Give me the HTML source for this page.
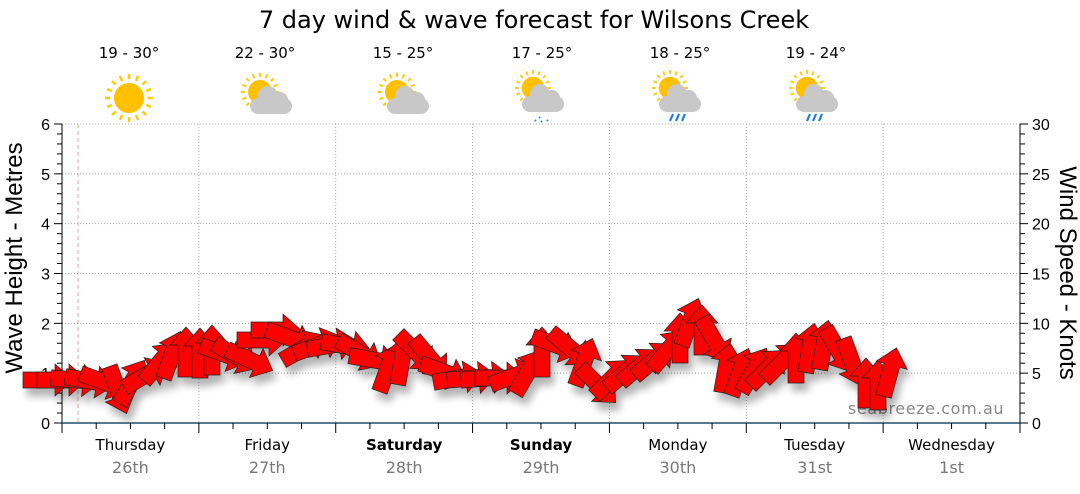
<!DOCTYPE html>
<html><head><meta charset="utf-8"><style>
body{margin:0;background:#fff;width:1080px;height:490px;overflow:hidden;font-family:"DejaVu Sans",sans-serif}
</style></head><body>
<svg id="s" width="1080" height="490" xmlns="http://www.w3.org/2000/svg" font-family="DejaVu Sans, sans-serif">
<defs>
<filter id="sh" x="-20%" y="-20%" width="140%" height="160%"><feGaussianBlur in="SourceAlpha" stdDeviation="4"/><feOffset dx="4" dy="8"/><feComponentTransfer><feFuncA type="linear" slope="0.3"/></feComponentTransfer><feMerge><feMergeNode/><feMergeNode in="SourceGraphic"/></feMerge></filter>
<g id="sun"><g stroke="#ffcc00" stroke-width="2.5"><line x1="0" y1="-24" x2="0" y2="-19"/><line x1="0" y1="24" x2="0" y2="19"/><line x1="-24" y1="0" x2="-19" y2="0"/><line x1="24" y1="0" x2="19" y2="0"/><line x1="-17" y1="-17" x2="-13.5" y2="-13.5"/><line x1="17" y1="17" x2="13.5" y2="13.5"/><line x1="-17" y1="17" x2="-13.5" y2="13.5"/><line x1="17" y1="-17" x2="13.5" y2="-13.5"/><line x1="-9" y1="-22" x2="-7" y2="-17"/><line x1="9" y1="22" x2="7" y2="17"/><line x1="22" y1="-9" x2="17" y2="-7"/><line x1="-22" y1="9" x2="-17" y2="7"/><line x1="9" y1="-22" x2="7" y2="-17"/><line x1="-9" y1="22" x2="-7" y2="17"/><line x1="22" y1="9" x2="17" y2="7"/><line x1="-22" y1="-9" x2="-17" y2="-7"/></g><circle r="15" fill="#ffc000"/></g>
<g id="cloud" fill="#c8c8c8"><rect x="-20" y="-2" width="42" height="16" rx="8"/><circle cx="-2" cy="-4" r="10"/><circle cx="10" cy="0" r="8"/></g>
</defs>
<text x="534" y="28" font-size="24" text-anchor="middle" fill="#000">7 day wind &amp; wave forecast for Wilsons Creek</text>
<g font-size="15" text-anchor="middle" fill="#000">
<text x="129" y="58">19 - 30°</text><text x="265" y="58">22 - 30°</text><text x="403" y="58">15 - 25°</text><text x="542" y="58">17 - 25°</text><text x="680" y="58">18 - 25°</text><text x="816" y="58">19 - 24°</text></g>
<use href="#sun" x="129" y="98"/>
<g transform="translate(260,92) scale(0.8)"><use href="#sun"/></g><use href="#cloud" x="270" y="100"/>
<g transform="translate(397,92) scale(0.8)"><use href="#sun"/></g><use href="#cloud" x="407" y="100"/>
<g transform="translate(533,88) scale(0.75)"><use href="#sun"/></g><use href="#cloud" x="542" y="98"/><g stroke="#1e7be0" stroke-width="2"><line x1="535" y1="120" x2="536" y2="121"/><line x1="541" y1="121" x2="542" y2="122"/><line x1="547" y1="120" x2="548" y2="121"/><line x1="539" y1="117" x2="540" y2="118"/></g>
<g transform="translate(670,88) scale(0.75)"><use href="#sun"/></g><use href="#cloud" x="679" y="98"/><g stroke="#1e7be0" stroke-width="2.2"><line x1="673" y1="114" x2="670" y2="121"/><line x1="679" y1="114" x2="676" y2="121"/><line x1="685" y1="114" x2="682" y2="121"/></g>
<g transform="translate(807,88) scale(0.75)"><use href="#sun"/></g><use href="#cloud" x="816" y="98"/><g stroke="#1e7be0" stroke-width="2.2"><line x1="810" y1="114" x2="807" y2="121"/><line x1="816" y1="114" x2="813" y2="121"/><line x1="822" y1="114" x2="819" y2="121"/></g>
<g id="grid" stroke="#aaa" stroke-dasharray="1,2" stroke-width="1"></g>
<line x1="78" y1="124" x2="78" y2="423" stroke="#f99" stroke-dasharray="4,3"/>
<g id="axes"></g>
<text x="926" y="414" font-size="16" fill="#888" text-anchor="middle" letter-spacing="0.6">seabreeze.com.au</text>
<g id="arr" filter="url(#sh)" fill="#ff0000" stroke="#222" stroke-width="0.7"></g>
<text transform="translate(22,258) rotate(-90)" font-size="24" font-family="Liberation Sans, sans-serif" text-anchor="middle">Wave Height - Metres</text>
<text transform="translate(1060,273) rotate(90)" font-size="24" font-family="Liberation Sans, sans-serif" text-anchor="middle">Wind Speed - Knots</text>
</svg>
<script>
var NS="http://www.w3.org/2000/svg",x0=62,x1=1020,y0=423,y6=124,dw=(x1-x0)/7;
function el(p,t,a,txt){var e=document.createElementNS(NS,t);for(var k in a)e.setAttribute(k,a[k]);if(txt!=null)e.textContent=txt;p.appendChild(e);return e;}
var g=document.getElementById('grid'),ax=document.getElementById('axes');
for(var i=1;i<=6;i++){var y=y0-(y0-y6)*i/6;el(g,'line',{x1:x0,x2:x1,y1:y,y2:y});}
for(var d=1;d<7;d++){var x=x0+dw*d;el(g,'line',{x1:x,x2:x,y1:y6,y2:y0});}
el(ax,'line',{x1:x0,x2:x0,y1:y6,y2:y0,stroke:'#000'});
el(ax,'line',{x1:x1,x2:x1,y1:y6,y2:y0,stroke:'#000'});
el(ax,'line',{x1:x0,x2:x1,y1:y0,y2:y0,stroke:'#1d4f6e','stroke-width':1.5});
for(var i=0;i<=30;i++){var y=y0-(y0-y6)*i/30;var big=i%5==0;
 el(ax,'line',{x1:x0-(big?8:5),x2:x0,y1:y,y2:y,stroke:'#000'});
 el(ax,'line',{x1:x1,x2:x1+(big?8:5),y1:y,y2:y,stroke:'#000'});
 if(big){el(ax,'text',{x:x0-12,y:y+6,'font-size':16,'text-anchor':'end','font-family':'Liberation Sans, sans-serif'},i/5);el(ax,'text',{x:x1+12,y:y+6,'font-size':16,'font-family':'Liberation Sans, sans-serif'},i);}}
for(var q=0;q<=28;q++){var x=x0+dw*q/4;el(ax,'line',{x1:x,x2:x,y1:y0,y2:y0+(q%4==0?10:6),stroke:'#000'});}
var days=['Thursday','Friday','Saturday','Sunday','Monday','Tuesday','Wednesday'],dates=['26th','27th','28th','29th','30th','31st','1st'];
for(var d=0;d<7;d++){var x=x0+dw*(d+0.5);el(ax,'text',{x:x,y:450,'font-size':15,'text-anchor':'middle','font-weight':(d==2||d==3)?'bold':'normal'},days[d]);el(ax,'text',{x:x,y:473,'font-size':16,'text-anchor':'middle',fill:'#777'},dates[d]);}
var A=[[48,380,0],[62,380,0],[76,380,5],[90,381,10],[104,382,20],[118,390,70],[132,382,-60],[146,375,-30],[160,362,-50],[172,355,-70],[186,352,-90],[200,353,-90],[212,350,-90],[224,354,20],[236,356,30],[250,360,25],[262,340,0],[276,330,0],[290,338,20],[304,348,-30],[318,345,-20],[332,345,-10],[346,346,10],[360,353,30],[374,360,10],[388,368,-70],[402,360,-80],[416,352,45],[430,358,50],[444,372,20],[458,378,-10],[472,378,-5],[486,378,-5],[500,378,0],[514,376,-20],[528,372,-60],[542,352,-90],[556,345,20],[570,348,40],[584,362,-70],[598,385,45],[612,378,-45],[626,372,-40],[640,366,-40],[654,360,-40],[668,350,-50],[680,338,-90],[690,322,-70],[702,330,-90],[714,340,60],[726,368,-80],[740,372,-70],[754,370,-60],[768,368,-45],[782,362,-45],[796,358,-90],[810,348,-80],[824,345,-80],[838,350,60],[852,362,70],[866,383,-90],[878,385,-90],[890,372,-75]];
var ag=document.getElementById('arr');
A.forEach(function(a){el(ag,'polygon',{points:'-25,-8 7,-8 7,-16 25,0 7,16 7,8 -25,8',transform:'translate('+a[0]+','+a[1]+') rotate('+a[2]+')'});});
</script>
</body></html>
